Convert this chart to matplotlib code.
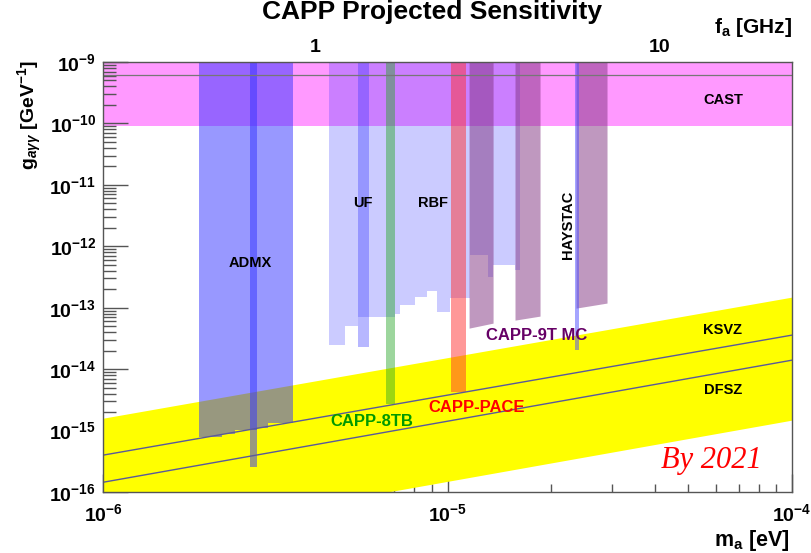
"""
capp_sensitivity.py
Axion-photon coupling exclusion plot, CAPP projections by 2021
"""

import numpy as np
import matplotlib
matplotlib.use("Agg")
import matplotlib.pyplot as plt
from matplotlib.ticker import FixedLocator, LogLocator, NullFormatter

# =========================================================
# Fonts
# =========================================================

plt.rcParams["font.family"] = ["Liberation Sans", "DejaVu Sans"]
plt.rcParams["font.weight"] = "bold"
plt.rcParams["mathtext.fontset"] = "custom"
plt.rcParams["mathtext.rm"] = "Liberation Sans:bold"
plt.rcParams["mathtext.it"] = "Liberation Sans:bold:italic"
plt.rcParams["mathtext.bf"] = "Liberation Sans:bold"

# =========================================================
# Data  (m_a in eV, g_agg in GeV^-1)
# =========================================================

G_TOP = 1e-9
EV_PER_GHZ = 4.1357e-6

# CAST helioscope limit
cast_g = 9.2e-11
cast_line_g = 6.2e-10

# QCD axion band and model lines (end points)
band_m = [1e-6, 1e-4]
band_lo = [1.5e-17, 1.48e-15]
band_hi = [1.59e-15, 1.49e-13]
ksvz_g = [3.98e-16, 3.58e-14]
dfsz_g = [1.44e-16, 1.40e-14]

# ADMX wide region (step edges + lower limits)
admx_m = [1.90e-6, 2.21e-6, 2.42e-6, 2.67e-6, 2.80e-6, 3.01e-6, 3.56e-6]
admx_g = [7.8e-16, 8.7e-16, 1.02e-15, 1.02e-15, 1.09e-15, 1.32e-15]

# ADMX narrow deep scan
admx_deep_m = [2.67e-6, 2.80e-6]
admx_deep_g = 2.6e-16

# UF / RBF region (step edges + lower limits)
rbf_m = [4.53e-6, 5.04e-6, 5.50e-6, 7.04e-6, 7.28e-6, 8.05e-6, 8.72e-6,
         9.32e-6, 1.017e-5, 1.162e-5, 1.311e-5, 1.356e-5, 1.570e-5, 1.623e-5]
rbf_g = [2.46e-14, 5.0e-14, 7.03e-14, 7.87e-14, 1.10e-13, 1.49e-13, 1.86e-13,
         8.48e-14, 1.43e-13, 7.19e-13, 3.15e-13, 4.94e-13, 4.10e-13]

uf_m = [5.50e-6, 5.92e-6]
uf_g = 2.28e-14

# CAPP experiments
capp8tb_m = [6.63e-6, 7.04e-6]
capp8tb_g = 2.69e-15

pace_m = [1.024e-5, 1.131e-5]
pace_g = 4.22e-15

mc_bars_m = [[1.155e-5, 1.356e-5], [1.570e-5, 1.856e-5], [2.361e-5, 2.904e-5]]
mc_bars_g = [[4.65e-14, 5.61e-14], [6.28e-14, 7.30e-14], [9.85e-14, 1.19e-13]]

haystac_m = [2.345e-5, 2.408e-5]
haystac_g = 2.04e-14

# =========================================================
# Figure
# =========================================================

fig = plt.figure(figsize=(8.11, 5.53), dpi=100)
ax = fig.add_axes([0.127, 0.1103, 0.8496, 0.7776])

ax.set_xscale("log")
ax.set_yscale("log")
ax.set_xlim(1e-6, 1e-4)
ax.set_ylim(1e-16, 1e-9)

# CAST
ax.axhspan(cast_g, G_TOP, color="#ff99ff", lw=0, zorder=1)
ax.axhline(cast_line_g, color="#777777", lw=0.9, zorder=6)

# QCD band
ax.fill_between(band_m, band_lo, band_hi, color="#ffff00", lw=0, zorder=2)

# UF / RBF
ax.fill_between(rbf_m, rbf_g + [rbf_g[-1]], G_TOP, step="post",
                color=(0.2, 0.2, 1.0), alpha=0.25, lw=0, zorder=3)

# ADMX
ax.fill_between(admx_m, admx_g + [admx_g[-1]], G_TOP, step="post",
                color=(0.2, 0.2, 1.0), alpha=0.5, lw=0, zorder=3)
ax.fill_between(admx_deep_m, admx_deep_g, G_TOP,
                color=(0.2, 0.2, 1.0), alpha=0.5, lw=0, zorder=4)

# UF
ax.fill_between(uf_m, uf_g, G_TOP,
                color=(0.2, 0.2, 1.0), alpha=0.35, lw=0, zorder=4)

# CAPP-8TB
ax.fill_between(capp8tb_m, capp8tb_g, G_TOP,
                color=(0.15, 0.65, 0.15), alpha=0.45, lw=0, zorder=4)

# CAPP-PACE
ax.fill_between(pace_m, pace_g, G_TOP,
                color=(1.0, 0.2, 0.2), alpha=0.5, lw=0, zorder=4)

# CAPP-9T MC
for bm, bg in zip(mc_bars_m, mc_bars_g):
    ax.fill_between(bm, bg, G_TOP,
                    color=(0.5, 0.2, 0.5), alpha=0.5, lw=0, zorder=4)

# HAYSTAC
ax.fill_between(haystac_m, haystac_g, G_TOP,
                color=(0.3, 0.3, 1.0), alpha=0.5, lw=0, zorder=5)

# KSVZ / DFSZ lines
ax.plot(band_m, ksvz_g, color="#5a5a9a", lw=1.0, zorder=6)
ax.plot(band_m, dfsz_g, color="#5a5a9a", lw=1.0, zorder=6)

# =========================================================
# Labels inside the plot
# =========================================================

ax.text(6.30e-5, 2.40e-10, "CAST", ha="center", va="center", fontsize=10.5, zorder=7)
ax.text(5.68e-6, 5.06e-12, "UF", ha="center", va="center", fontsize=10.5, zorder=7)
ax.text(9.08e-6, 5.06e-12, "RBF", ha="center", va="center", fontsize=10.5, zorder=7)
ax.text(2.238e-5, 2.21e-12, "HAYSTAC", ha="center", va="center",
        rotation=90, fontsize=10.5, zorder=7)
ax.text(2.67e-6, 5.32e-13, "ADMX", ha="center", va="center", fontsize=10.5, zorder=7)
ax.text(6.30e-5, 4.32e-14, "KSVZ", ha="center", va="center", fontsize=10.5, zorder=7)
ax.text(6.30e-5, 4.55e-15, "DFSZ", ha="center", va="center", fontsize=10.5, zorder=7)
ax.text(1.819e-5, 3.58e-14, "CAPP-9T MC", ha="center", va="center",
        color="#660066", fontsize=12, zorder=7)
ax.text(6.04e-6, 1.42e-15, "CAPP-8TB", ha="center", va="center",
        color="#009900", fontsize=12, zorder=7)
ax.text(1.218e-5, 2.40e-15, "CAPP-PACE", ha="center", va="center",
        color="#ff0000", fontsize=12, zorder=7)
ax.text(5.82e-5, 3.3e-16, "By 2021", ha="center", va="center", color="#ff0000",
        fontsize=22, family="Liberation Serif", style="italic", weight="normal",
        zorder=7)

# =========================================================
# Axes / ticks
# =========================================================

for side in ["left", "bottom", "right", "top"]:
    ax.spines[side].set_color("#555555")
    ax.spines[side].set_linewidth(1.0)
    ax.spines[side].set_zorder(8)

ax.set_yticks([1e-16, 1e-15, 1e-14, 1e-13, 1e-12, 1e-11, 1e-10, 1e-9])
ax.set_yticklabels([r"$10^{-16}$", r"$10^{-15}$", r"$10^{-14}$", r"$10^{-13}$",
                    r"$10^{-12}$", r"$10^{-11}$", r"$10^{-10}$", r"$10^{-9}$"])
ax.set_xticks([1e-6, 1e-5, 1e-4])
ax.set_xticklabels([r"$10^{-6}$", r"$10^{-5}$", r"$10^{-4}$"])

ax.xaxis.set_minor_locator(LogLocator(base=10, subs=np.arange(2, 10)))
ax.yaxis.set_minor_locator(LogLocator(base=10, subs=np.arange(2, 10)))
ax.xaxis.set_minor_formatter(NullFormatter())
ax.yaxis.set_minor_formatter(NullFormatter())

ax.tick_params(axis="y", which="major", direction="in", length=18, width=1.0,
               color="#555555", labelsize=14, pad=5)
ax.tick_params(axis="y", which="minor", direction="in", length=9, width=1.0,
               color="#555555")
ax.tick_params(axis="x", which="major", direction="in", length=13, width=1.0,
               color="#555555", labelsize=14, pad=8)
ax.tick_params(axis="x", which="minor", direction="in", length=6, width=1.0,
               color="#555555")
ax.tick_params(top=False, right=False, which="both")

# top axis: frequency in GHz
secax = ax.secondary_xaxis(
    "top",
    functions=(lambda m: m / EV_PER_GHZ, lambda f: f * EV_PER_GHZ),
)
secax.xaxis.set_major_locator(FixedLocator([1, 10]))
secax.set_xticklabels(["1", "10"])
secax.xaxis.set_minor_locator(LogLocator(base=10, subs=np.arange(2, 10)))
secax.xaxis.set_minor_formatter(NullFormatter())
secax.tick_params(which="major", direction="in", length=11, width=1.0,
                  color="#555555", labelsize=14, pad=4)
secax.tick_params(which="minor", direction="in", length=6, width=1.0,
                  color="#555555")
secax.spines["top"].set_visible(False)

# =========================================================
# Titles
# =========================================================

fig.text(0.533, 1 - 19 / 553, "CAPP Projected Sensitivity",
         ha="center", va="baseline", fontsize=19)
fig.text(0.9766, 1 - 33 / 553, r"f$_\mathrm{a}$ [GHz]", ha="right", va="baseline",
         fontsize=15)
fig.text(0.974, 1 - 546 / 553, r"m$_\mathrm{a}$ [eV]", ha="right", va="baseline",
         fontsize=15.5)
fig.text(0.037, 1 - 60 / 553, r"g$_{a\gamma\gamma}$ [GeV$^{-1}$]",
         ha="center", va="top", rotation=90, fontsize=14)

fig.savefig("out.png", dpi=100)
